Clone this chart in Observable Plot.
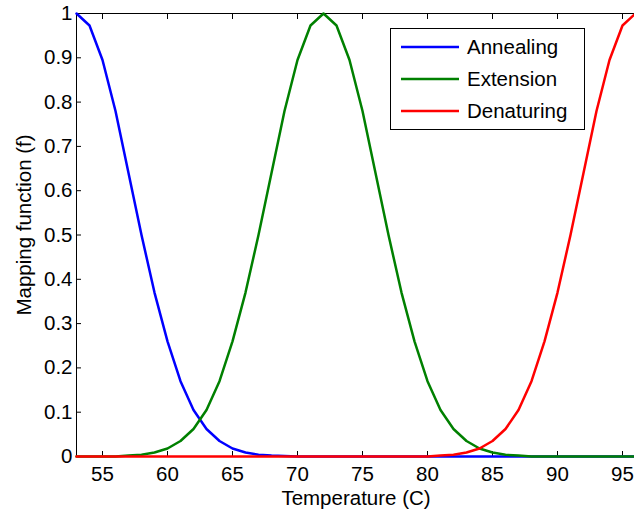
<!DOCTYPE html>
<html>
<head>
<meta charset="utf-8">
<script src="https://cdn.jsdelivr.net/npm/d3@7"></script>
<script src="https://cdn.jsdelivr.net/npm/@observablehq/plot@0.6"></script>
<style>
  html, body { margin: 0; padding: 0; background: white; overflow: hidden; }
  #chart svg { overflow: hidden; }
</style>
</head>
<body>
<div id="chart"></div>
<script>
const temps = [53,54,55,56,57,58,59,60,61,62,63,64,65,66,67,68,69,70,71,72,73,74,75,76,77,78,79,80,81,82,83,84,85,86,87,88,89,90,91,92,93,94,95,96];
const annealing = [1,0.973,0.895,0.78,0.64,0.5,0.37,0.26,0.17,0.105,0.062,0.035,0.018,0.009,0.004,0.002,0.001,0,0,0,0,0,0,0,0,0,0,0,0,0,0,0,0,0,0,0,0,0,0,0,0,0,0,0];
const extension = [0,0,0,0,0.002,0.004,0.009,0.018,0.035,0.062,0.105,0.17,0.26,0.37,0.5,0.64,0.78,0.895,0.973,1,0.973,0.895,0.78,0.64,0.5,0.37,0.26,0.17,0.105,0.062,0.035,0.018,0.009,0.004,0.002,0,0,0,0,0,0,0,0,0];
const denaturing = [0,0,0,0,0,0,0,0,0,0,0,0,0,0,0,0,0,0,0,0,0,0,0,0,0,0,0,0,0.002,0.004,0.009,0.018,0.035,0.062,0.105,0.17,0.26,0.37,0.5,0.64,0.78,0.895,0.973,1];
const seriesNames = ["Annealing", "Extension", "Denaturing"];
const seriesColors = ["#0000ff", "#008000", "#ff0000"];
const xTicks = [55,60,65,70,75,80,85,90,95];
const yTicks = [0,0.1,0.2,0.3,0.4,0.5,0.6,0.7,0.8,0.9,1];
const xLabel = "Temperature (C)";
const yLabel = "Mapping function (f)";

const seriesValues = [annealing, extension, denaturing];
const rows = [];
seriesNames.forEach((name, s) => {
  temps.forEach((t, i) => rows.push({series: name, t, v: seriesValues[s][i]}));
});

const FS = 20.5;
const plot = Plot.plot({
  width: 634,
  height: 514,
  marginLeft: 76,
  marginRight: -1,
  marginTop: 13,
  marginBottom: 58,
  style: {fontFamily: "'Liberation Sans', Arial, sans-serif", fontSize: FS + "px", color: "black", background: "white"},
  x: {domain: [53, 96]},
  y: {domain: [0, 1]},
  color: {domain: seriesNames, range: seriesColors},
  marks: [
    Plot.frame({stroke: "black", strokeWidth: 1}),
    Plot.axisX({anchor: "bottom", ticks: xTicks, tickSize: -5, tickPadding: 15, label: null, tickFormat: d => String(d)}),
    Plot.axisX({anchor: "top", ticks: xTicks, tickSize: -5, label: null, tickFormat: () => ""}),
    Plot.axisY({anchor: "left", ticks: yTicks, tickSize: -5, tickPadding: 9, label: null, tickFormat: d => String(d)}),
    Plot.lineY(rows, {x: "t", y: "v", z: "series", stroke: "series", strokeWidth: 2.5}),
    Plot.text([xLabel], {frameAnchor: "bottom", textAnchor: "middle", lineAnchor: "middle", dy: 42, fontSize: FS}),
    Plot.text([yLabel], {frameAnchor: "left", textAnchor: "middle", lineAnchor: "middle", dx: -52, dy: -10, rotate: -90, fontSize: FS})
  ]
});
document.getElementById("chart").appendChild(plot);

// legend box
const svg = d3.select(plot);
const lg = svg.append("g").attr("text-anchor", "start");
lg.append("rect").attr("x", 390.5).attr("y", 28.5).attr("width", 194).attr("height", 101)
  .attr("fill", "white").attr("stroke", "black").attr("stroke-width", 1);
seriesNames.forEach((name, i) => {
  const yy = 47 + i * 32;
  lg.append("line").attr("x1", 401).attr("x2", 459).attr("y1", yy).attr("y2", yy)
    .attr("stroke", seriesColors[i]).attr("stroke-width", 2.5);
  lg.append("text").attr("x", 467).attr("y", yy).attr("dy", "0.35em")
    .attr("font-size", FS).attr("fill", "black").text(name);
});
</script>
</body>
</html>
